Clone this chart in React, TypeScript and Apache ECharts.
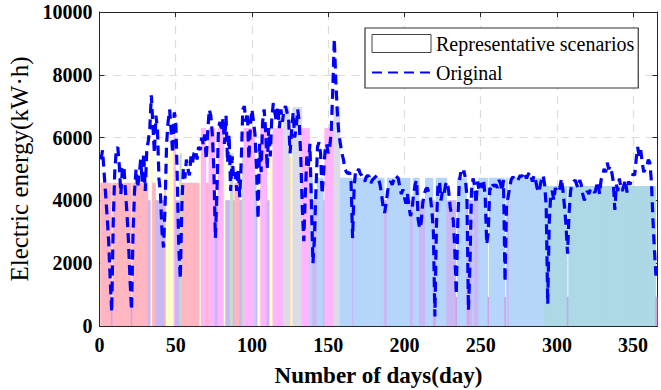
import React, { useEffect, useRef } from "react";
import * as echarts from "echarts";

// Representative scenario clusters: key, level (kW·h), colour
const scenarioKeys = ["A", "B", "C", "D", "E", "F", "G", "H", "I", "J", "K"];
const scenarioLevels = [4560, 4000, 6300, 6970, 4720, 4460, 930, 5600, 5500, 5400, 470];
const scenarioColors = [
  "#FFB6C1", "#C9B8F5", "#FFB5FF", "#DCDCE8", "#B5D5FA", "#ADD8E6",
  "#D2A0E6", "#FFFFCC", "#CADCC6", "#FFDDA8", "#D2A0E6",
];

// Scenario assigned to each day (days 1..365), 10 days per chunk
const dayScenarioChunks = [
  "AAAAAAAGAA", "AAAAAAAAAA", "GAAAAAAAAA", "ABBHAABBBB", "BBAHHHHHCB",
  "BBIAAAAAAA", "AAAAAHCCCA", "ACCCCBBCCC", "CHBBBIIBAA", "ABBICCCCCC",
  "CEBHHCCCCB", "BHHCCCCCCC", "DDDDJHDDDD", "DDCCCCCEEB", "BBEEEEBCCC",
  "CCCDDDDEEE", "EEEEEBEEEE", "EEEEEEEEEE", "EEEEEEBBEE", "EEEEEEEEEE",
  "EEEBBEEEEB", "BBBEEEEEBK", "EEEEEEEBBB", "BBBGEEEEEE", "BGBBEBBBEE",
  "EEEEGEEEEE", "EEEEEGEBEE", "EEEEEEEEEE", "EEEEEEEEEE", "EFFFFFFFFF",
  "FFFFFFGFFF", "FFFFFFFFFF", "FFFFFFFFFF", "FFFFFFFFFF", "FFFFFFFFFF",
  "FFFFFFFFFF", "FFFFG",
];

// Original daily electric energy (kW·h), days 1..365
const original = [
  5300, 5600, 4900, 4200, 3500, 2700, 1500, 450, 3300, 4900,
  5600, 5700, 5100, 4200, 5000, 5100, 4300, 3600, 2700, 1500,
  500, 3000, 4300, 5000, 4400, 4800, 5300, 4600, 5500, 4300,
  5600, 5900, 6300, 7350, 6400, 5500, 6700, 6300, 4700, 4200,
  3000, 2500, 3800, 5800, 6500, 6900, 6200, 5500, 6800, 6600,
  4700, 2500, 1500, 3800, 5000, 4700, 5300, 5000, 4800, 5400,
  5200, 5500, 5600, 5300, 5700, 5600, 6000, 5800, 6100, 5300,
  6200, 6900, 6700, 6100, 5000, 2800, 4200, 6300, 6500, 6200,
  6600, 5800, 6700, 5200, 6100, 4300, 5400, 4700, 4900, 4300,
  5000, 4100, 5300, 6900, 7000, 6500, 6800, 5300, 6400, 6900,
  6500, 6100, 5000, 3400, 5800, 4900, 6500, 6900, 6200, 5000,
  6300, 5400, 6600, 7100, 6800, 6500, 7000, 6300, 6900, 6500,
  6900, 7000, 6800, 6650, 5500, 6200, 6800, 6000, 6300, 6900,
  6500, 5400, 3800, 2700, 4200, 5400, 5100, 5800, 3900, 2000,
  2800, 4400, 5700, 5850, 5500, 4200, 4900, 5600, 5800, 5500,
  5700, 6200, 7500, 9150, 7800, 6800, 6100, 5800, 5500, 5300,
  5000, 4900, 4850, 4900, 4600, 2800, 4400, 4950, 4900, 5000,
  4850, 4800, 4700, 4600, 4750, 4800, 4750, 4550, 4650, 4700,
  4750, 4800, 4700, 4500, 4200, 3800, 3600, 3900, 4300, 4550,
  4600, 4500, 4650, 4800, 4750, 4700, 4400, 4200, 4350, 4100,
  3900, 4200, 3800, 3500, 3700, 4200, 4500, 4650, 3400, 3100,
  3300, 3900, 4200, 4350, 4400, 4250, 4100, 3700, 3000, 300,
  3200, 4500, 4600, 4000, 4300, 4200, 4500, 4600, 4300, 3800,
  3500, 3400, 2500, 1000, 3300, 4600, 4900, 4750, 4950, 4700,
  4100, 500, 2000, 4300, 4700, 4500, 3900, 4600, 4300, 4550,
  4400, 4600, 4100, 2600, 3000, 4400, 4300, 4500, 4450, 4500,
  4400, 4650, 4550, 4300, 4650, 1400, 3900, 4100, 4400, 4650,
  4750, 4700, 4650, 4600, 4700, 4800, 4750, 4900, 4850, 4700,
  4800, 4900, 4750, 4600, 4800, 4650, 4400, 4250, 4450, 4700,
  4800, 4500, 3800, 700, 3300, 4200, 4300, 4000, 4400, 4250,
  4300, 4400, 4700, 4300, 3800, 3200, 2300, 3600, 4300, 4550,
  4600, 4650, 4500, 4400, 4650, 4500, 4200, 4000, 4150, 4300,
  4200, 4350, 4400, 4300, 4250, 4450, 4600, 4200, 4650, 4800,
  5000, 4900, 5200, 5000, 5100, 4900, 4600, 3700, 4500, 4300,
  4700, 4400, 4300, 4500, 4650, 4250, 4600, 4500, 4700, 4850,
  4800, 5300, 5700, 5400, 5600, 5200, 4900, 5000, 5050, 5300,
  5200, 4600, 3400, 2400, 1600,
];

const xTicks = { min: 0, max: 366, interval: 50 };
const yTicks = { min: 0, max: 10000, interval: 2000 };

const FONT = '"Liberation Serif", "Times New Roman", serif';

export default function App() {
  const ref = useRef<HTMLDivElement>(null);

  useEffect(() => {
    if (!ref.current) return;
    const chart = echarts.init(ref.current, null, { renderer: "svg" });
    const dayScenario = dayScenarioChunks.join("");
    const barData = original.map((_, i) => {
      const k = scenarioKeys.indexOf(dayScenario[i]);
      return [i + 1, scenarioLevels[k], k];
    });
    const lineData = original.map((v, i) => [i + 1, v]);

    const axisColor = "#262626";
    chart.setOption({
      animation: false,
      backgroundColor: "#ffffff",
      textStyle: { fontFamily: FONT },
      grid: {
        left: 99.5, right: 3.5, top: 12, bottom: 64,
        containLabel: false, outerBoundsMode: "none",
      },
      legend: {
        orient: "vertical",
        left: 365,
        top: 28,
        padding: [4, 4, 4, 6],
        itemWidth: 59,
        itemHeight: 18,
        itemGap: 6,
        backgroundColor: "#ffffff",
        borderColor: "#333333",
        borderWidth: 1.2,
        borderRadius: 0,
        textStyle: { fontFamily: FONT, fontSize: 20, color: "#000", lineHeight: 23 },
        data: [
          {
            name: "Representative scenarios",
            icon: "rect",
            itemStyle: { color: "#ffffff", borderColor: "#444444", borderWidth: 1 },
          },
          { name: "Original", itemStyle: { opacity: 0 } },
        ],
      },
      xAxis: [
        {
          type: "value",
          min: xTicks.min,
          max: xTicks.max,
          interval: xTicks.interval,
          name: "Number of days(day)",
          nameLocation: "middle",
          nameGap: 38,
          nameTextStyle: { fontFamily: FONT, fontSize: 23, fontWeight: "bold", color: "#000" },
          axisLine: { show: true, lineStyle: { color: axisColor, width: 1 } },
          axisTick: { show: true, inside: true, length: 5, lineStyle: { color: axisColor } },
          axisLabel: {
            fontFamily: FONT, fontSize: 20, fontWeight: "bold", color: "#000",
            margin: 9, showMaxLabel: false,
          },
          splitLine: { show: true, lineStyle: { color: "#dcdcdc", width: 1.2, type: [8, 6] } },
        },
        {
          type: "value",
          position: "top",
          min: xTicks.min,
          max: xTicks.max,
          interval: xTicks.interval,
          axisLine: { show: true, onZero: false, lineStyle: { color: axisColor, width: 1 } },
          axisTick: { show: true, inside: true, length: 5, lineStyle: { color: axisColor } },
          axisLabel: { show: false },
          splitLine: { show: false },
        },
      ],
      yAxis: [
        {
          type: "value",
          min: yTicks.min,
          max: yTicks.max,
          interval: yTicks.interval,
          name: "Electric energy(kW·h)",
          nameLocation: "middle",
          nameGap: 66,
          nameTextStyle: { fontFamily: FONT, fontSize: 25, color: "#000" },
          axisLine: { show: true, lineStyle: { color: axisColor, width: 1 } },
          axisTick: { show: true, inside: true, length: 5, lineStyle: { color: axisColor } },
          axisLabel: {
            fontFamily: FONT, fontSize: 20, fontWeight: "bold", color: "#000", margin: 7,
            formatter: (v: number) => String(v),
          },
          splitLine: { show: true, lineStyle: { color: "#dcdcdc", width: 1.2, type: [8, 6] } },
        },
        {
          type: "value",
          position: "right",
          min: yTicks.min,
          max: yTicks.max,
          interval: yTicks.interval,
          axisLine: { show: true, onZero: false, lineStyle: { color: axisColor, width: 1 } },
          axisTick: { show: true, inside: true, length: 5, lineStyle: { color: axisColor } },
          axisLabel: { show: false },
          splitLine: { show: false },
        },
      ],
      series: [
        {
          name: "Representative scenarios",
          type: "custom",
          xAxisIndex: 0,
          yAxisIndex: 0,
          encode: { x: 0, y: 1 },
          data: barData,
          silent: true,
          itemStyle: { color: "#ffffff", borderColor: "#444444", borderWidth: 1 },
          renderItem: (params: any, api: any) => {
            const d = api.value(0);
            const v = api.value(1);
            const k = api.value(2);
            const p0 = api.coord([d - 0.5, v]);
            const p1 = api.coord([d + 0.5, 0]);
            return {
              type: "rect",
              shape: {
                x: p0[0],
                y: p0[1],
                width: p1[0] - p0[0] + 0.7,
                height: p1[1] - p0[1],
              },
              style: { fill: scenarioColors[k], stroke: null, lineWidth: 0 },
            };
          },
          z: 1,
        },
        {
          name: "Original",
          type: "line",
          xAxisIndex: 0,
          yAxisIndex: 0,
          data: lineData,
          showSymbol: false,
          symbol: "none",
          lineStyle: { color: "#0000FF", width: 3.2, type: [10, 6] },
          itemStyle: { color: "#0000FF" },
          z: 3,
        },
      ],
    });
    return () => chart.dispose();
  }, []);

  return (
    <div
      ref={ref}
      style={{ position: "fixed", left: 0, top: 0, width: 661, height: 390, background: "#fff" }}
    />
  );
}
